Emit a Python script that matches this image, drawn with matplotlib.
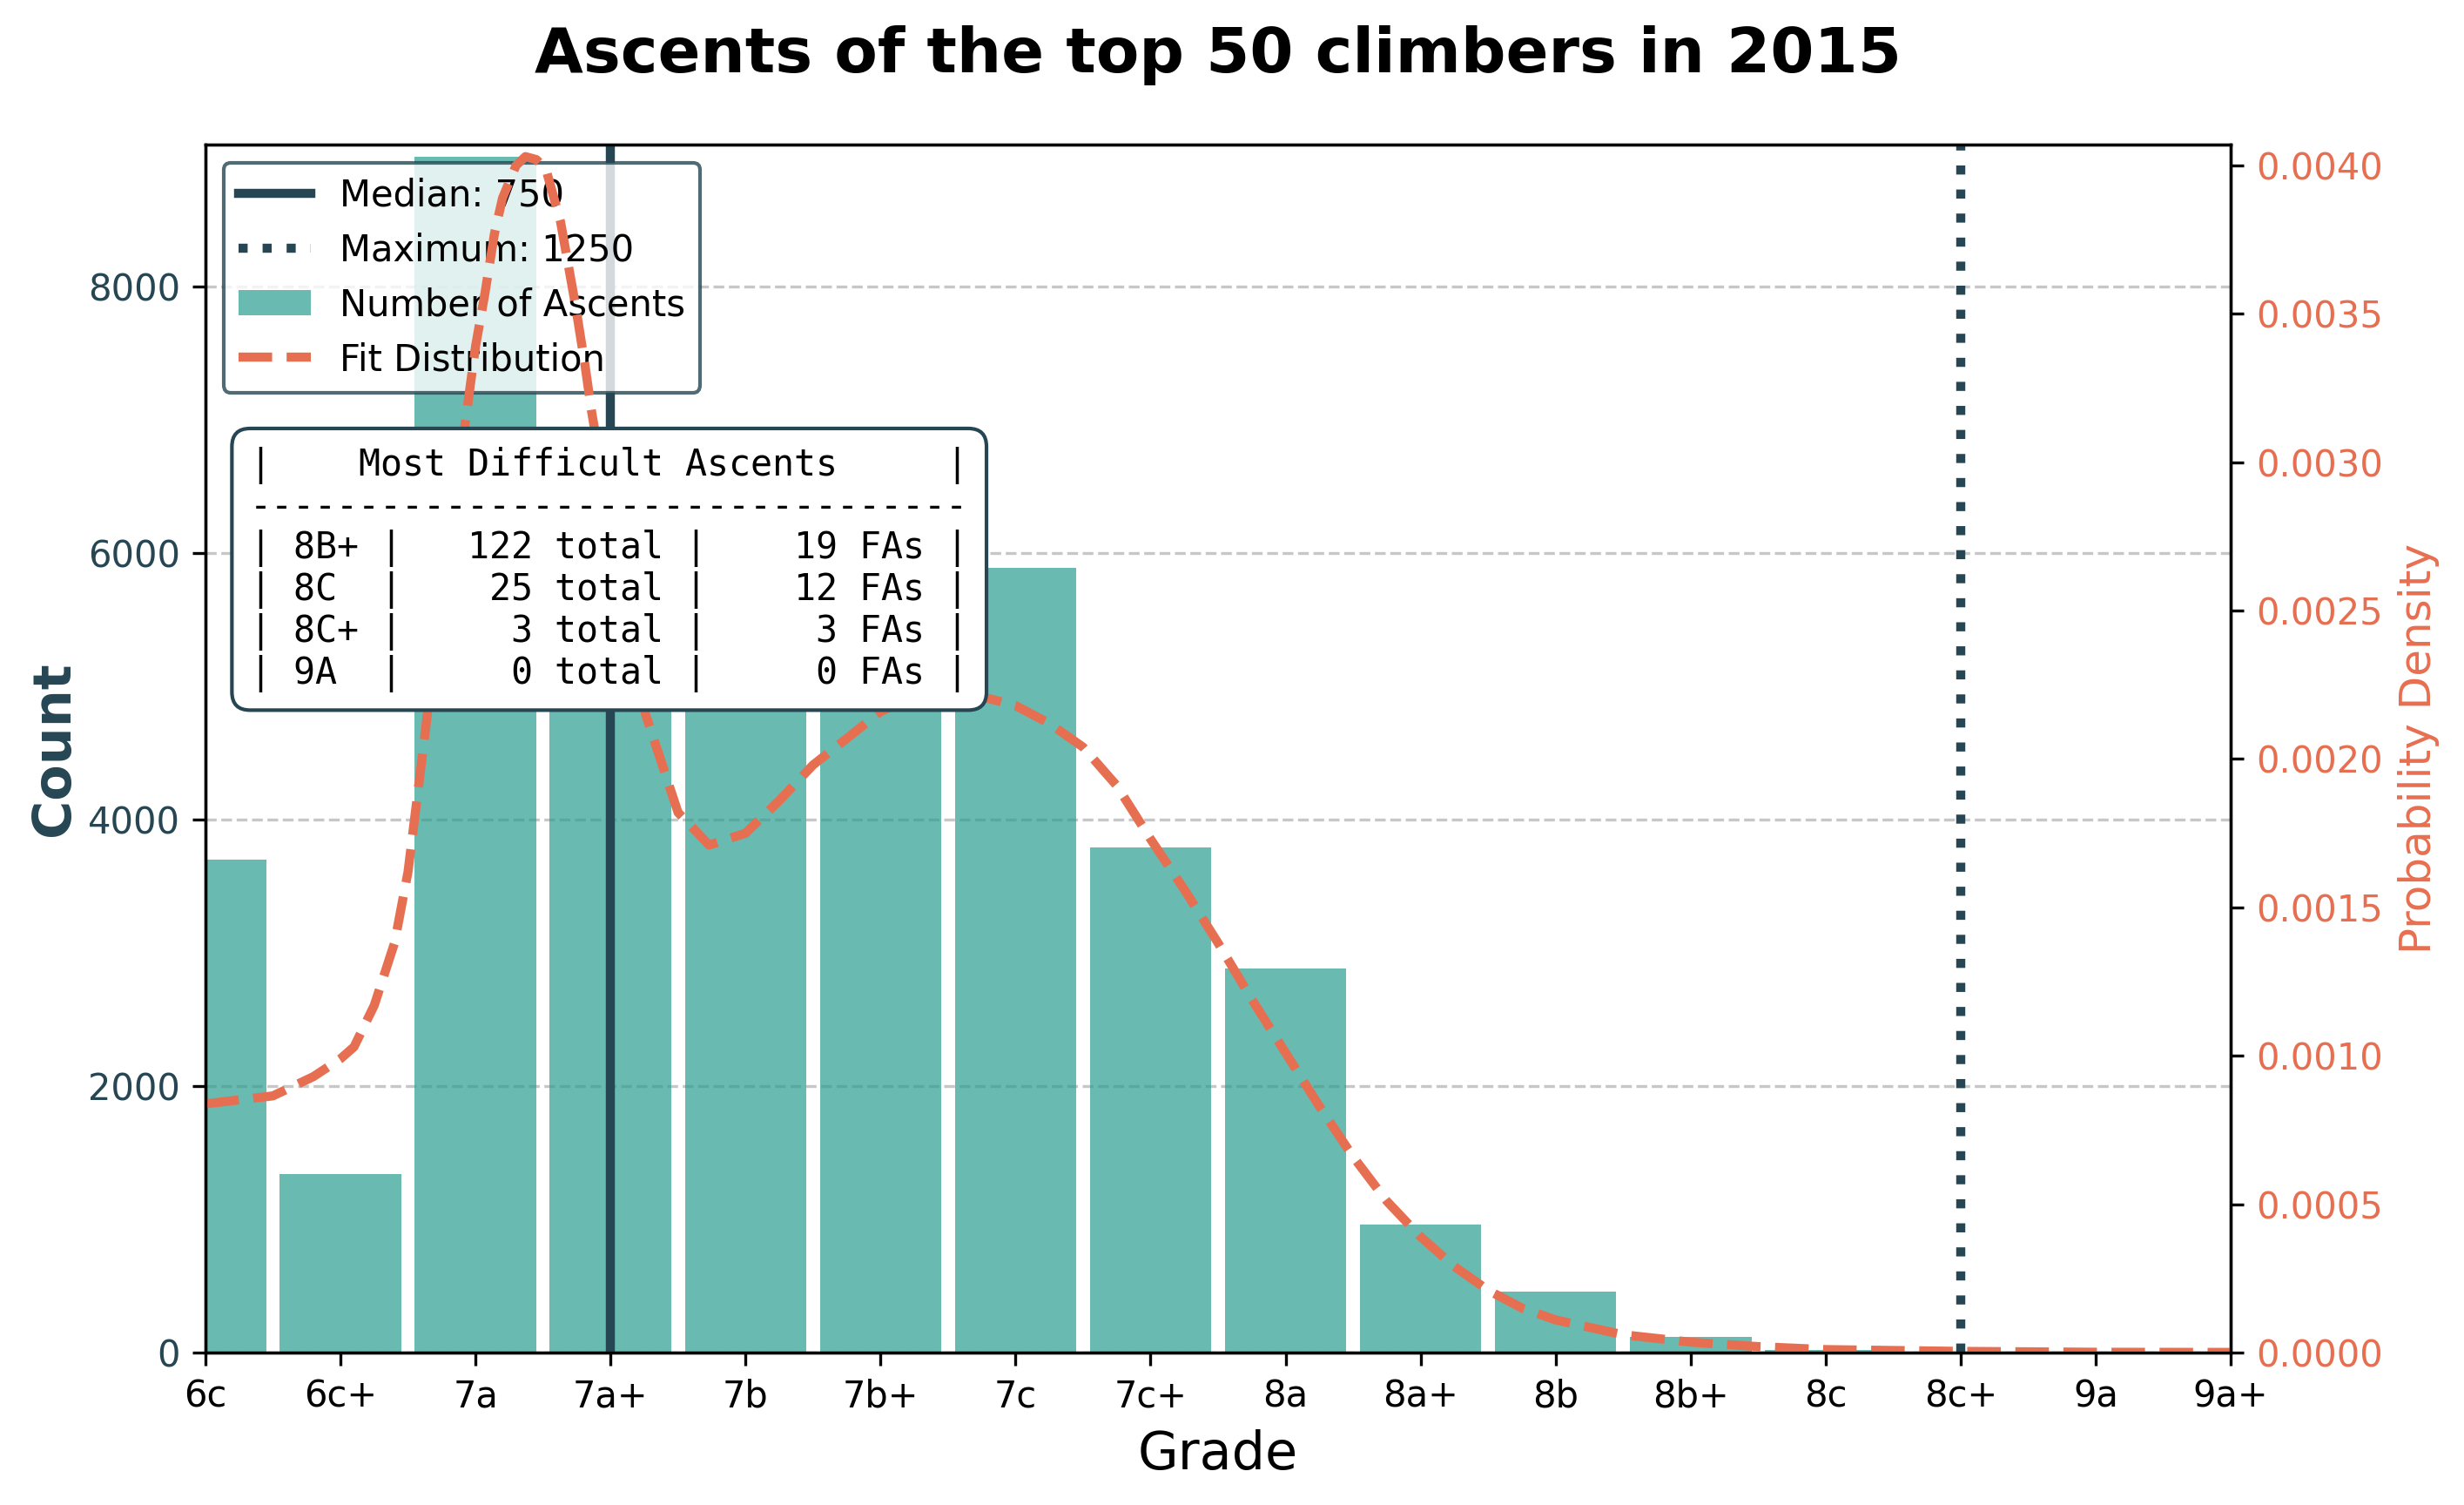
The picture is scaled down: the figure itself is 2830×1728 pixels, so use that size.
import matplotlib
matplotlib.use('Agg')
import matplotlib.pyplot as plt
from matplotlib.ticker import FormatStrFormatter

# grades on the x axis
grades = ['6c', '6c+', '7a', '7a+', '7b', '7b+', '7c', '7c+',
          '8a', '8a+', '8b', '8b+', '8c', '8c+', '9a', '9a+']
# number of ascents per grade (7a+, 7b, 7b+ are hidden behind the table in the original)
ascents = [3700, 1340, 8975, 5900, 5600, 6300, 5890, 3790,
           2885, 962, 458, 118, 22, 5, 0, 0]

# fitted density curve (x in grade index units)
fit_x = [0, 0.5, 0.8, 1.0, 1.1, 1.25, 1.4, 1.5, 1.63, 1.75, 1.92, 2.0, 2.07, 2.14,
         2.2, 2.3, 2.37, 2.45, 2.52, 2.63, 2.74, 2.81, 2.86, 3.0, 3.1, 3.26, 3.5,
         3.73, 4.0, 4.25, 4.5, 4.78, 5.0, 5.25, 5.5, 5.75, 6.0, 6.25, 6.5, 6.75,
         7.0, 7.25, 7.5, 7.75, 8.0, 8.25, 8.5, 8.75, 9.0, 9.25, 9.5, 9.75, 10.0,
         10.5, 11.0, 11.5, 12.0, 13.0, 14.0, 15.0]
fit_y = [0.000838, 0.000865, 0.00093, 0.00099, 0.00103, 0.00117, 0.00138, 0.00162,
         0.0021, 0.00258, 0.00312, 0.00339, 0.00357, 0.00377, 0.00389, 0.00400,
         0.00403, 0.00402, 0.00399, 0.00381, 0.00353, 0.00333, 0.00317, 0.00280,
         0.00252, 0.00215, 0.00182, 0.00171, 0.00175, 0.00186, 0.00198, 0.00208,
         0.00216, 0.00221, 0.00222, 0.00221, 0.00218, 0.00212, 0.00204, 0.00191,
         0.00173, 0.00156, 0.00138, 0.00119, 0.00101, 0.00083, 0.00066, 0.00051,
         0.00039, 0.00029, 0.00021, 0.00015, 0.00011, 0.00006, 0.000035, 0.00002,
         0.00001, 0.000004, 0.000001, 0.0000005]

median_score = 750
max_score = 1250
median_pos = 3    # 7a+
max_pos = 13      # 8c+

# most difficult ascents table
hard_grades = ['8B+', '8C', '8C+', '9A']
hard_totals = [122, 25, 3, 0]
hard_fas = [19, 12, 3, 0]

dark = '#264653'
teal = '#2a9d8f'
orange = '#e76f51'

fig = plt.figure(figsize=(2830 / 300, 1728 / 300), dpi=300)
ax1 = fig.add_axes([0.0834, 0.1013, 0.8219, 0.8026])

x = list(range(len(grades)))
bars = ax1.bar(x, ascents, width=0.9, color=teal, alpha=0.7, label='Number of Ascents', zorder=2)
med = ax1.axvline(median_pos, color=dark, linestyle='-', linewidth=2.5,
                  label='Median: %d' % median_score, zorder=3)
mx = ax1.axvline(max_pos, color=dark, linestyle=':', linewidth=2.5,
                 label='Maximum: %d' % max_score, zorder=3)

ax1.set_xlim(0, len(grades) - 1)
ax1.set_ylim(0, max(ascents) * 1.01)
ax1.set_xticks(x)
ax1.set_xticklabels(grades)
ax1.tick_params(axis='both', labelsize=10)
ax1.tick_params(axis='y', labelcolor=dark)
ax1.set_axisbelow(True)
ax1.grid(axis='y', linestyle='--', alpha=0.7, zorder=0)
ax1.set_xlabel('Grade', fontsize=14.5)
ax1.set_ylabel('Count', fontsize=14.5, fontweight='bold', color=dark, labelpad=2)
ax1.set_title('Ascents of the top 50 climbers in 2015', fontsize=17.3, fontweight='bold', pad=20)

ax2 = ax1.twinx()
fit, = ax2.plot(fit_x, fit_y, color=orange, linestyle='--', linewidth=2.5, label='Fit Distribution')
ax2.set_ylim(0, max(fit_y) * 1.01)
ax2.yaxis.set_major_formatter(FormatStrFormatter('%.4f'))
ax2.tick_params(axis='y', labelsize=10, labelcolor=orange)
ax2.set_ylabel('Probability Density', fontsize=12, color=orange)

leg = ax1.legend(handles=[med, mx, bars, fit], loc='upper left', fontsize=10,
                 framealpha=0.8, edgecolor=dark)

lines = ['|{:^31}|'.format('Most Difficult Ascents'), '-' * 33]
for g, t, f in zip(hard_grades, hard_totals, hard_fas):
    lines.append('| {:<3} | {:>5} total | {:>5} FAs |'.format(g, t, f))
ax2.text(0.022, 0.75, '\n'.join(lines), transform=ax2.transAxes, va='top', ha='left',
         fontsize=10, family='DejaVu Sans Mono', zorder=10, linespacing=1.15,
         bbox=dict(boxstyle='round,pad=0.5', facecolor='white', edgecolor=dark, linewidth=1))

fig.savefig('out.png', dpi=300)
